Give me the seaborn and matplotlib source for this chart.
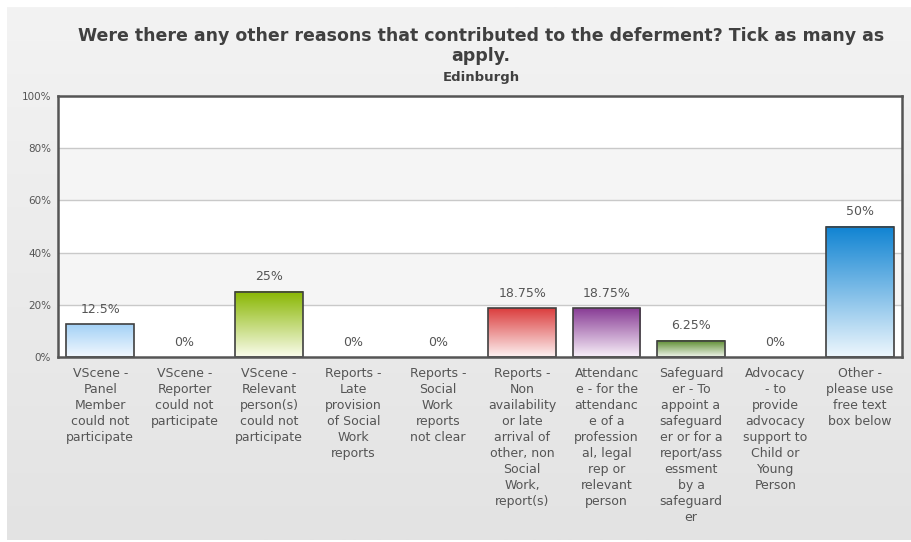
import numpy as np
import matplotlib
matplotlib.use("Agg")
import matplotlib.pyplot as plt
from matplotlib.colors import LinearSegmentedColormap
import seaborn as sns
import pandas as pd

# ---- data -------------------------------------------------------------
categories = [
    "VScene -\nPanel\nMember\ncould not\nparticipate",
    "VScene -\nReporter\ncould not\nparticipate",
    "VScene -\nRelevant\nperson(s)\ncould not\nparticipate",
    "Reports -\nLate\nprovision\nof Social\nWork\nreports",
    "Reports -\nSocial\nWork\nreports\nnot clear",
    "Reports -\nNon\navailability\nor late\narrival of\nother, non\nSocial\nWork,\nreport(s)",
    "Attendanc\ne - for the\nattendanc\ne of a\nprofession\nal, legal\nrep or\nrelevant\nperson",
    "Safeguard\ner - To\nappoint a\nsafeguard\ner or for a\nreport/ass\nessment\nby a\nsafeguard\ner",
    "Advocacy\n- to\nprovide\nadvocacy\nsupport to\nChild or\nYoung\nPerson",
    "Other -\nplease use\nfree text\nbox below",
]
values = [12.5, 0, 25, 0, 0, 18.75, 18.75, 6.25, 0, 50]
value_labels = ["12.5%", "0%", "25%", "0%", "0%", "18.75%", "18.75%", "6.25%", "0%", "50%"]
y_ticks = [0, 20, 40, 60, 80, 100]
y_tick_labels = ["0%", "20%", "40%", "60%", "80%", "100%"]
title = "Were there any other reasons that contributed to the deferment? Tick as many as\napply."
subtitle = "Edinburgh"

# gradient colours of each bar (top -> bottom)
top_colors = ["#a3d1f6", "#cccccc", "#88b600", "#cccccc", "#cccccc",
              "#db3d3d", "#883c95", "#5a8a2c", "#cccccc", "#0f83d2"]
bottom_colors = ["#f2f8fe", "#ffffff", "#fafcec", "#ffffff", "#ffffff",
                 "#fdf2f2", "#f8f0f9", "#f0f5ec", "#ffffff", "#eef7fd"]

# ---- figure -----------------------------------------------------------
sns.set_theme(style="white")
plt.rcParams["font.family"] = ["DejaVu Sans"]

W, H = 911, 542
fig = plt.figure(figsize=(W / 100, H / 100), dpi=100)
fig.patch.set_facecolor("white")

# grey gradient panel behind the chart
bg = fig.add_axes([7 / W, 2 / H, 904 / W, 533 / H], zorder=-10)
grad = np.linspace(0, 1, 256).reshape(-1, 1)
bg.imshow(grad, aspect="auto", extent=[0, 1, 0, 1], origin="upper",
          cmap=LinearSegmentedColormap.from_list("panel", ["#f3f3f3", "#e3e3e3"]))
bg.axis("off")

ax = fig.add_axes([58 / W, 1 - 357 / H, (902 - 58) / W, (357 - 96) / H])
ax.set_facecolor("white")

df = pd.DataFrame({"category": categories, "value": values})
sns.barplot(data=df, x="category", y="value", hue="category",
            palette=top_colors, legend=False, ax=ax, width=0.8,
            saturation=1, edgecolor="#404040", linewidth=1.2)

# alternating bands and grid lines
for lo, hi in [(20, 40), (60, 80)]:
    ax.axhspan(lo, hi, color="#f5f5f5", zorder=0.1, lw=0)
for y in [20, 40, 60, 80]:
    ax.axhline(y, color="#c9c9c9", lw=1, zorder=0.2)

# vertical gradient fill for each bar
for patch, top, bot, v in zip(ax.patches, top_colors, bottom_colors, values):
    x0, w, h = patch.get_x(), patch.get_width(), patch.get_height()
    if h <= 0:
        patch.set_visible(False)
        continue
    cmap = LinearSegmentedColormap.from_list("bar", [top, bot])
    ax.imshow(grad, aspect="auto", extent=[x0, x0 + w, 0, h],
              origin="upper", cmap=cmap, zorder=0.5)
    patch.set_facecolor("none")
    patch.set_zorder(1)

# value labels above the bars
for i, (v, lab) in enumerate(zip(values, value_labels)):
    ax.annotate(lab, (i, v), xytext=(0, 6), textcoords="offset points",
                ha="center", va="bottom", fontsize=9, color="#555555")

ax.set_xlim(-0.5, len(values) - 0.5)
ax.set_ylim(0, 100)
ax.set_yticks(y_ticks)
ax.set_yticklabels(y_tick_labels, fontsize=7.5, color="#555555")
ax.set_xticks(range(len(categories)))
ax.set_xticklabels(categories, fontsize=9, color="#555555", linespacing=1.3,
                   va="top")
ax.tick_params(axis="both", length=0)
ax.tick_params(axis="x", pad=7.5)
ax.tick_params(axis="y", pad=5)
ax.set_xlabel("")
ax.set_ylabel("")
for sp in ax.spines.values():
    sp.set_visible(True)
    sp.set_color("#555555")
    sp.set_linewidth(1.8)

fig.text(481 / W, 1 - 27 / H, title, ha="center", va="top", fontsize=12.5,
         fontweight="bold", color="#404040", linespacing=1.15)
fig.text(481 / W, 1 - 77 / H, subtitle, ha="center", va="center",
         fontsize=9.5, fontweight="bold", color="#404040")

fig.savefig("out.png", dpi=100)
